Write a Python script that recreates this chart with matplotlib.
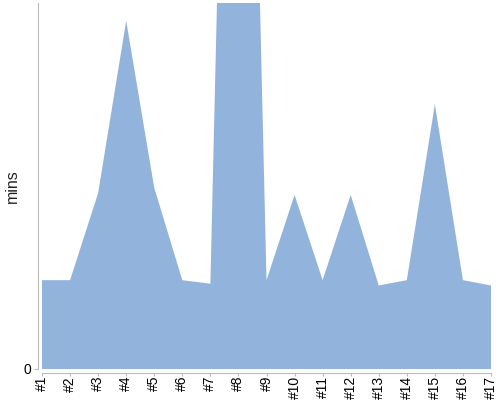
import numpy as np
import matplotlib.pyplot as plt

plt.rcParams['font.family'] = ['Liberation Sans', 'DejaVu Sans']

labels = ["#%d" % i for i in range(1, 18)]
mins = [5.0, 5.0, 9.9, 19.6, 10.2, 5.0, 4.8, 72.0, 5.0, 9.8, 5.0, 9.8, 4.7, 5.0, 14.9, 5.0, 4.7]

fig = plt.figure(figsize=(5, 4), dpi=100)
ax = fig.add_axes([0.084, 0.0775, 0.898, 0.915])

x = np.arange(len(labels))
ax.fill_between(x, 0, mins, color="#92b4dc", linewidth=0)
ax.set_xlim(0, len(labels) - 1)
ax.set_ylim(0, 20.6)

ax.set_xticks(x)
ax.set_xticklabels(labels, fontsize=6, color="#222222")
ax.tick_params(axis="x", labelrotation=90)
ax.set_yticks([0])
ax.set_yticklabels(["0"], fontsize=9, color="#666666")
ax.set_ylabel("mins", fontsize=11.5, color="#222222")
ax.yaxis.set_label_coords(-0.049, 0.5)

for s in ["top", "right"]:
    ax.spines[s].set_visible(False)
ax.spines["left"].set_position(("outward", 3))
ax.spines["bottom"].set_position(("outward", 3))
ax.spines["left"].set_color("#bbbbbb")
ax.spines["bottom"].set_color("#bbbbbb")
ax.tick_params(axis="x", length=2, color="#bbbbbb", pad=0)
ax.tick_params(axis="y", length=3, color="#bbbbbb", pad=2)

fig.savefig("out.png", dpi=100)
